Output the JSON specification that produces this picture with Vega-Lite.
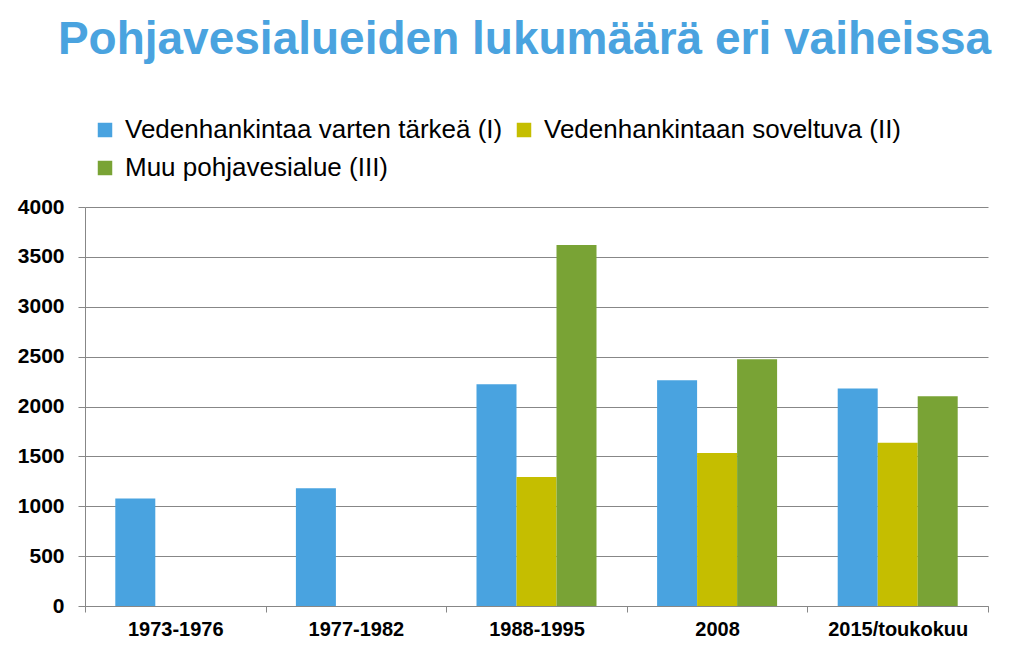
{
  "$schema": "https://vega.github.io/schema/vega-lite/v6.json",
  "width": 903,
  "height": 399,
  "autosize": {"type": "none"},
  "padding": {"left": 85, "top": 207, "right": 36, "bottom": 53},
  "background": "white",
  "title": {
    "text": "Pohjavesialueiden lukumäärä eri vaiheissa",
    "font": "Liberation Sans",
    "fontSize": 46,
    "fontWeight": "bold",
    "color": "#4aa3df",
    "anchor": "middle",
    "dx": -12,
    "offset": 53
  },
  "data": {
    "values": [
      {"vaihe": "1973-1976", "luokka": "Vedenhankintaa varten tärkeä (I)", "lukumaara": 1077},
      {"vaihe": "1977-1982", "luokka": "Vedenhankintaa varten tärkeä (I)", "lukumaara": 1180},
      {"vaihe": "1988-1995", "luokka": "Vedenhankintaa varten tärkeä (I)", "lukumaara": 2222},
      {"vaihe": "1988-1995", "luokka": "Vedenhankintaan soveltuva (II)", "lukumaara": 1292},
      {"vaihe": "1988-1995", "luokka": "Muu pohjavesialue (III)", "lukumaara": 3618},
      {"vaihe": "2008", "luokka": "Vedenhankintaa varten tärkeä (I)", "lukumaara": 2262},
      {"vaihe": "2008", "luokka": "Vedenhankintaan soveltuva (II)", "lukumaara": 1533},
      {"vaihe": "2008", "luokka": "Muu pohjavesialue (III)", "lukumaara": 2474},
      {"vaihe": "2015/toukokuu", "luokka": "Vedenhankintaa varten tärkeä (I)", "lukumaara": 2180},
      {"vaihe": "2015/toukokuu", "luokka": "Vedenhankintaan soveltuva (II)", "lukumaara": 1637},
      {"vaihe": "2015/toukokuu", "luokka": "Muu pohjavesialue (III)", "lukumaara": 2103}
    ]
  },
  "mark": {"type": "bar"},
  "encoding": {
    "x": {
      "field": "vaihe",
      "type": "nominal",
      "sort": ["1973-1976", "1977-1982", "1988-1995", "2008", "2015/toukokuu"],
      "scale": {"paddingInner": 0, "paddingOuter": 0},
      "axis": {
        "title": null,
        "labelAngle": 0,
        "labelFont": "Liberation Sans",
        "labelFontSize": 20,
        "labelFontWeight": "bold",
        "labelColor": "#000000",
        "labelPadding": 7,
        "tickBand": "extent",
        "tickSize": 6,
        "tickColor": "#878787",
        "domainColor": "#878787",
        "grid": false
      }
    },
    "xOffset": {
      "field": "luokka",
      "type": "nominal",
      "scale": {
        "domain": ["Vedenhankintaa varten tärkeä (I)", "Vedenhankintaan soveltuva (II)", "Muu pohjavesialue (III)"],
        "paddingInner": 0,
        "paddingOuter": 0.7575
      }
    },
    "y": {
      "field": "lukumaara",
      "type": "quantitative",
      "scale": {"domain": [0, 4000], "nice": false},
      "axis": {
        "title": null,
        "format": "d",
        "values": [0, 500, 1000, 1500, 2000, 2500, 3000, 3500, 4000],
        "labelFont": "Liberation Sans",
        "labelFontSize": 21,
        "labelFontWeight": "bold",
        "labelColor": "#000000",
        "labelPadding": 14,
        "tickSize": 7,
        "tickColor": "#878787",
        "domainColor": "#878787",
        "grid": true,
        "gridColor": "#878787",
        "gridOpacity": 1
      }
    },
    "color": {
      "field": "luokka",
      "type": "nominal",
      "scale": {
        "domain": ["Vedenhankintaa varten tärkeä (I)", "Vedenhankintaan soveltuva (II)", "Muu pohjavesialue (III)"],
        "range": ["#49a3e0", "#c5be00", "#79a335"]
      },
      "legend": {
        "title": null,
        "orient": "none",
        "direction": "horizontal",
        "legendX": 7,
        "legendY": -90,
        "columns": 2,
        "columnPadding": 8,
        "rowPadding": 12,
        "symbolType": "square",
        "symbolSize": 210,
        "symbolStrokeWidth": 0,
        "symbolOpacity": 1,
        "labelFont": "Liberation Sans",
        "labelFontSize": 26,
        "labelColor": "#000000",
        "labelOffset": 7,
        "labelLimit": 600
      }
    }
  },
  "config": {
    "view": {"stroke": null}
  }
}
